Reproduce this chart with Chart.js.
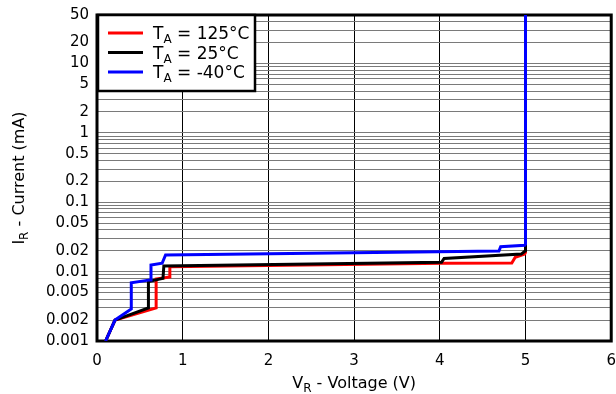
<!DOCTYPE html>
<html>
<head>
<meta charset="utf-8">
<script src="https://cdn.jsdelivr.net/npm/chart.js@4.4.1/dist/chart.umd.min.js"></script>
<style>
  html, body { margin: 0; padding: 0; background: #fff; }
</style>
</head>
<body>
<canvas id="chart" width="616" height="394"></canvas>
<script>
(function () {
  'use strict';

  // series (V in volts, I in mA)
  const SERIES_NAMES = ['125°C', '25°C', '-40°C'];
  const SERIES_COLORS = ['#ff0000', '#000000', '#0000ff'];

  const RED_V = [0.10, 0.21, 0.69, 0.69, 0.85, 0.85, 4.03, 4.84, 4.88, 4.99, 5.00, 5.00];
  const RED_I = [0.001, 0.002, 0.0030, 0.0078, 0.0084, 0.0118, 0.0132, 0.0133, 0.0161, 0.018, 0.019, 50];

  const BLACK_V = [0.10, 0.21, 0.60, 0.60, 0.77, 0.78, 4.02, 4.05, 4.95, 5.00, 5.00];
  const BLACK_I = [0.001, 0.002, 0.0030, 0.0072, 0.0080, 0.0121, 0.0136, 0.0155, 0.0179, 0.020, 50];

  const BLUE_V = [0.10, 0.21, 0.40, 0.40, 0.62, 0.63, 0.76, 0.80, 4.69, 4.71, 4.99, 5.00, 5.00];
  const BLUE_I = [0.001, 0.002, 0.0029, 0.0069, 0.0076, 0.0124, 0.0132, 0.0174, 0.0198, 0.0229, 0.024, 0.025, 50];

  const X_TICKS = [0, 1, 2, 3, 4, 5, 6];
  const Y_LABELS = ['0.001', '0.002', '0.005', '0.01', '0.02', '0.05', '0.1', '0.2', '0.5', '1', '2', '5', '10', '20', '50'];
  const Y_DECADES = [0.001, 0.01, 0.1, 1, 10];
  const Y_MANTISSAS = [1, 2, 3, 4, 5, 6, 7, 8, 9];

  const TICK_FONT = "'DejaVu Sans', sans-serif";

  function pts(v, i) { return v.map(function (x, k) { return { x: x, y: i[k] }; }); }

  const yGrid = [];
  Y_DECADES.forEach(function (d) {
    Y_MANTISSAS.forEach(function (m) {
      const v = +(m * d).toPrecision(6);
      if (v <= 50) yGrid.push(v);
    });
  });

  function yLabel(v) {
    for (let k = 0; k < Y_LABELS.length; k++) {
      const t = Number(Y_LABELS[k]);
      if (Math.abs(v - t) < t * 1e-6) return Y_LABELS[k];
    }
    return '';
  }

  // text with a subscript, e.g. T_A
  function subText(ctx, x, y, main, sub, rest, size, align) {
    const subSize = Math.round(size * 0.72);
    ctx.font = size + 'px ' + TICK_FONT;
    const w1 = ctx.measureText(main).width;
    const w3 = ctx.measureText(rest).width;
    ctx.font = subSize + 'px ' + TICK_FONT;
    const w2 = ctx.measureText(sub).width;
    let sx = x;
    if (align === 'center') sx = x - (w1 + w2 + w3) / 2;
    ctx.textAlign = 'left';
    ctx.textBaseline = 'alphabetic';
    ctx.font = size + 'px ' + TICK_FONT;
    ctx.fillText(main, sx, y);
    ctx.font = subSize + 'px ' + TICK_FONT;
    ctx.fillText(sub, sx + w1, y + size * 0.25);
    ctx.font = size + 'px ' + TICK_FONT;
    ctx.fillText(rest, sx + w1 + w2, y);
  }

  const framePlugin = {
    id: 'frame',
    beforeDatasetsDraw: function (chart) {
      const a = chart.chartArea, ctx = chart.ctx;
      ctx.save();
      ctx.strokeStyle = '#000';
      ctx.lineWidth = 3;
      ctx.strokeRect(a.left, a.top, a.right - a.left, a.bottom - a.top);
      ctx.restore();
    },
    afterDatasetsDraw: function (chart) {
      const a = chart.chartArea, ctx = chart.ctx;
      ctx.save();
      // legend box
      const lx = a.left + 1, ly = a.top, lw = 157, lh = 76;
      ctx.fillStyle = '#fff';
      ctx.fillRect(lx, ly, lw, lh);
      ctx.strokeStyle = '#000';
      ctx.lineWidth = 2.5;
      ctx.strokeRect(lx, ly, lw, lh);
      SERIES_NAMES.forEach(function (name, k) {
        const cy = 33 + k * 19.5;
        ctx.strokeStyle = SERIES_COLORS[k];
        ctx.lineWidth = 3;
        ctx.beginPath();
        ctx.moveTo(108, cy);
        ctx.lineTo(143, cy);
        ctx.stroke();
        ctx.fillStyle = '#000';
        subText(ctx, 153, cy + 6, 'T', 'A', ' = ' + name, 17, 'left');
      });

      // axis titles
      ctx.fillStyle = '#000';
      subText(ctx, (a.left + a.right) / 2, 388, 'V', 'R', ' - Voltage (V)', 16, 'center');
      ctx.translate(24, (a.top + a.bottom) / 2);
      ctx.rotate(-Math.PI / 2);
      subText(ctx, 0, 0, 'I', 'R', ' - Current (mA)', 16, 'center');
      ctx.restore();
    }
  };

  const datasets = [
    { v: RED_V, i: RED_I, order: 3 },
    { v: BLACK_V, i: BLACK_I, order: 2 },
    { v: BLUE_V, i: BLUE_I, order: 1 }
  ].map(function (s, k) {
    return {
      label: 'TA = ' + SERIES_NAMES[k],
      data: pts(s.v, s.i),
      borderColor: SERIES_COLORS[k],
      backgroundColor: SERIES_COLORS[k],
      borderWidth: 3,
      pointRadius: 0,
      tension: 0,
      fill: false,
      order: s.order
    };
  });

  new Chart(document.getElementById('chart'), {
    type: 'line',
    data: { datasets: datasets },
    plugins: [framePlugin],
    options: {
      responsive: false,
      animation: false,
      devicePixelRatio: 1,
      layout: { padding: { left: 0, right: 3, top: 15, bottom: 0 } },
      plugins: {
        legend: { display: false },
        tooltip: { enabled: false }
      },
      scales: {
        x: {
          type: 'linear',
          min: 0,
          max: 6,
          afterBuildTicks: function (scale) {
            scale.ticks = X_TICKS.map(function (v) { return { value: v }; });
          },
          afterFit: function (scale) { scale.height = 53; },
          grid: { color: '#000', lineWidth: 1, drawTicks: true, tickLength: 11, tickColor: 'rgba(0,0,0,0)' },
          border: { display: false },
          ticks: {
            color: '#000',
            padding: 0,
            font: { family: TICK_FONT, size: 15 }
          }
        },
        y: {
          type: 'logarithmic',
          min: 0.001,
          max: 50,
          afterBuildTicks: function (scale) {
            scale.ticks = yGrid.map(function (v) { return { value: v }; });
          },
          afterFit: function (scale) { scale.width = 97; },
          grid: { color: '#7a7a7a', lineWidth: 1, drawTicks: true, tickLength: 8, tickColor: 'rgba(0,0,0,0)' },
          border: { display: false },
          ticks: {
            color: '#000',
            padding: 0,
            autoSkip: false,
            font: { family: TICK_FONT, size: 15 },
            callback: function (v) { return yLabel(v); }
          }
        }
      }
    }
  });
})();
</script>
</body>
</html>
